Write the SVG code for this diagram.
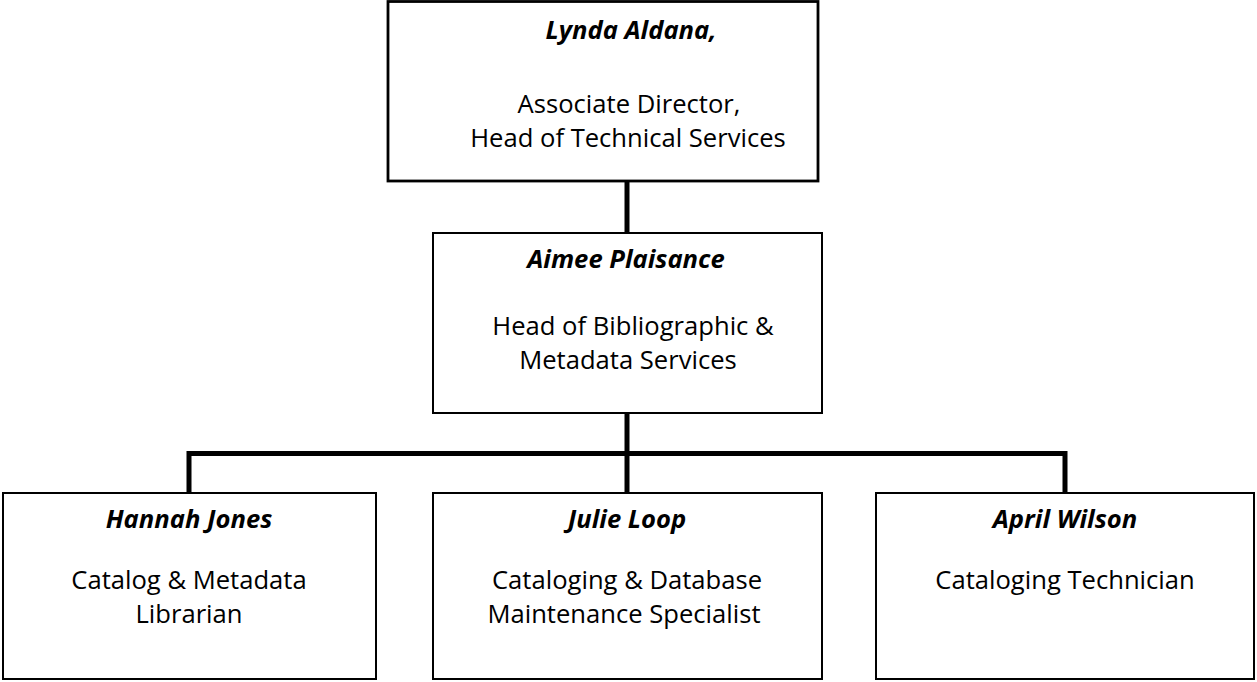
<svg xmlns="http://www.w3.org/2000/svg" width="1257" height="682" viewBox="0 0 1257 682">
<style>
.box{fill:#fff;stroke:#000;stroke-width:2}
.top{stroke-width:2.8}
.conn{fill:none;stroke:#000;stroke-width:5;stroke-linecap:square;stroke-linejoin:miter}
text{font-family:"Open Sans","Liberation Sans",sans-serif;font-size:25.6px;fill:#000;text-anchor:middle}
.name{font-weight:bold;font-style:italic;font-size:25.6px}
</style>
<rect width="1257" height="682" fill="#fff"/>
<g id="connectors">
<path class="conn" d="M627,183 V231"/>
<path class="conn" d="M627,415 V491"/>
<path class="conn" d="M189,491 V453.5 H1065 V491"/>
</g>
<g id="lynda">
<rect class="box top" x="388" y="1.5" width="430" height="179.5"/>
<text class="name" x="631" y="39">Lynda Aldana,</text>
<text x="629" y="113">Associate Director,</text>
<text x="628" y="147">Head of Technical Services</text>
</g>
<g id="aimee">
<rect class="box" x="433" y="233" width="389" height="180"/>
<text class="name" x="626" y="268">Aimee Plaisance</text>
<text x="633" y="335">Head of Bibliographic &amp;</text>
<text x="628" y="369">Metadata Services</text>
</g>
<g id="hannah">
<rect class="box" x="3" y="493" width="373" height="186"/>
<text class="name" x="189" y="528">Hannah Jones</text>
<text x="189" y="589">Catalog &amp; Metadata</text>
<text x="189" y="623">Librarian</text>
</g>
<g id="julie">
<rect class="box" x="433" y="493" width="389" height="186"/>
<text class="name" x="627" y="528">Julie Loop</text>
<text x="627" y="589">Cataloging &amp; Database</text>
<text x="624" y="623">Maintenance Specialist</text>
</g>
<g id="april">
<rect class="box" x="876" y="493" width="378" height="186"/>
<text class="name" x="1065" y="528">April Wilson</text>
<text x="1065" y="589">Cataloging Technician</text>
</g>
</svg>
